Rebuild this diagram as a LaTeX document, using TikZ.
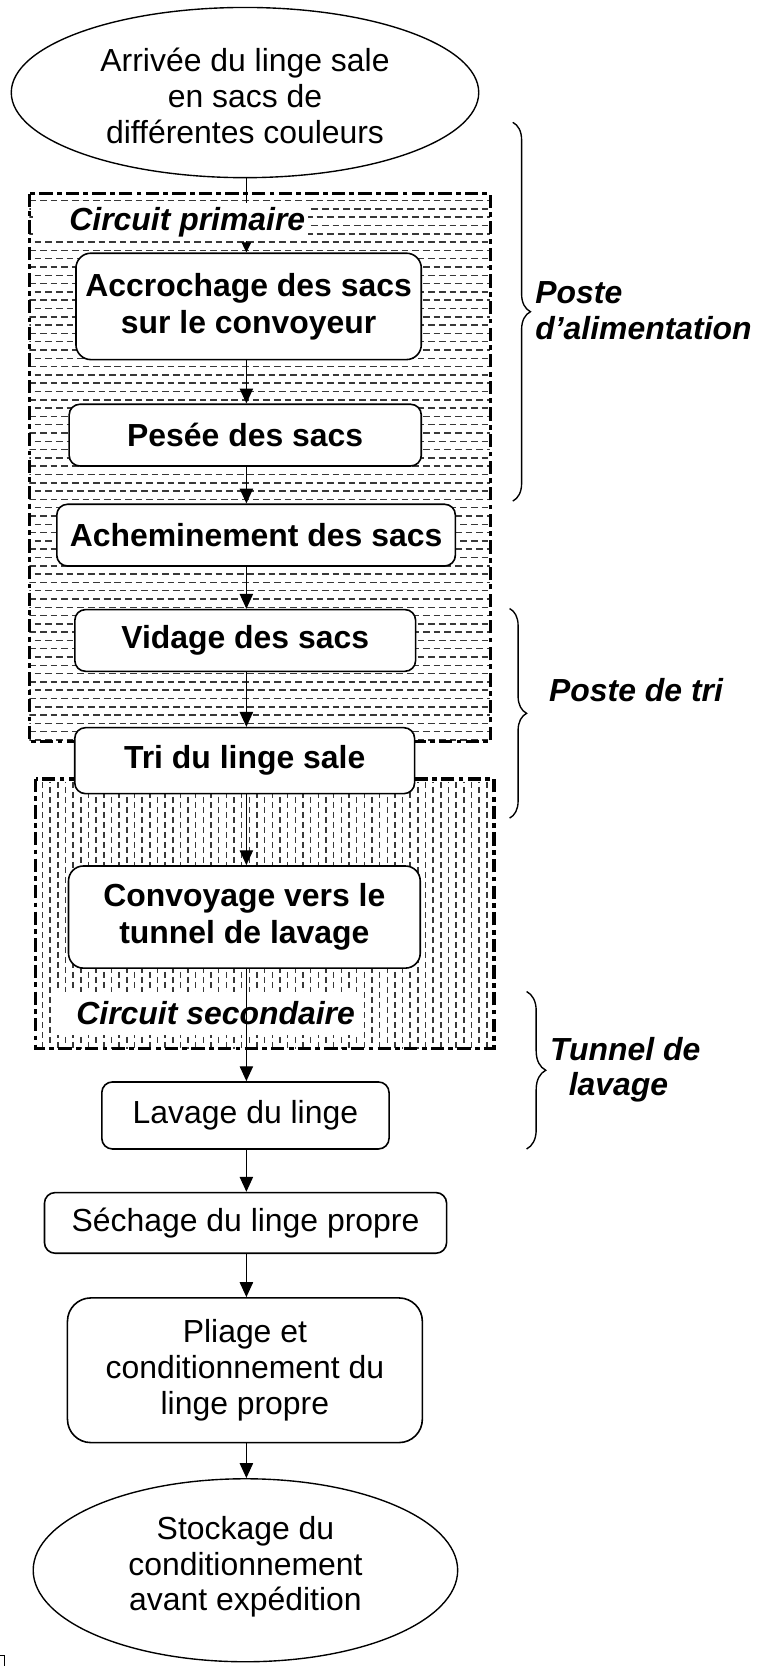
\documentclass[tikz,border=0pt]{standalone}
\usepackage{fontspec}
\setmainfont{Liberation Sans}
\usetikzlibrary{shapes.geometric,arrows.meta,decorations.pathreplacing,calc}
\definecolor{patgray}{gray}{0.22}
\begin{document}
\begin{tikzpicture}[x=1pt,y=-1pt,
  txt/.style={font=\fontsize{30}{34}\selectfont, align=center, inner sep=0pt},
  bbox/.style={draw, line width=1.5pt, fill=white, rounded corners=10pt, inner sep=0pt,
    font=\fontsize{30}{35}\selectfont\bfseries, align=center},
  rbox/.style={bbox, font=\fontsize{30}{34}\selectfont},
  ell/.style={draw, ellipse, line width=1.3pt, fill=white, inner sep=0pt},
  conn/.style={line width=1.3pt, -{Triangle[width=12.5pt,length=14pt]}},
  connsmall/.style={line width=1.3pt, -{Triangle[width=9pt,length=9.5pt]}},
  framebox/.style={line width=3.4pt, dash pattern=on 12.5pt off 4pt on 4.5pt off 4pt},
  hpat/.style={draw=patgray, line width=1.4pt, dash pattern=on 6.3pt off 3.7pt},
  vpat/.style={draw=patgray, line width=1.4pt, dash pattern=on 5.6pt off 3.8pt},
  lab/.style={font=\fontsize{30}{34}\selectfont\bfseries\itshape, inner sep=0pt},
  brc/.style={decorate, line width=1.3pt},
]
\useasboundingbox (0,0) rectangle (720,1566);

% --- pattern fills ---
\begin{scope}
  \clip (27.6,182) rectangle (461,697);
  \foreach \k in {0,...,66}{
    \pgfmathsetmacro\yy{188.6+7.8*\k}
    \pgfmathsetmacro\ph{mod(\k,2)*5}
    \draw[hpat, dash phase=\ph pt] (27.6,\yy) -- (461,\yy);
  }
\end{scope}
\begin{scope}
  \clip (33.5,732) rectangle (464.2,985.6);
  \foreach \k in {0,...,60}{
    \pgfmathsetmacro\xx{40+7.2*\k}
    \pgfmathsetmacro\ph{mod(\k,2)*4.7}
    \draw[vpat, dash phase=\ph pt] (\xx,735) -- (\xx,985.6);
  }
\end{scope}

% --- frames ---
\draw[framebox] (27.6,182) rectangle (461,697);
\draw[framebox] (33.5,732) rectangle (464.2,985.6);

% --- nodes ---
\coordinate (axis) at (231.6,0);
\node[ell, minimum width=439.4pt, minimum height=160pt] (start) at (230.3,87) {};
\node[txt] (starttxt) at (230.3,90) {Arrivée du linge sale\\en sacs de\\différentes couleurs};

\node[bbox, rounded corners=14pt, minimum width=324.6pt, minimum height=100pt] (acc) at (233.7,288) {Accrochage des sacs\\sur le convoyeur};
\node[bbox, minimum width=331pt, minimum height=58pt] (pes) at (230.5,409) {Pesée des sacs};
\node[bbox, minimum width=374.6pt, minimum height=58pt] (ach) at (240.7,503) {Acheminement des sacs};
\node[bbox, minimum width=320.3pt, minimum height=58pt] (vid) at (230.5,602) {Vidage des sacs};
\node[bbox, minimum width=319.4pt, minimum height=62pt] (tri) at (230,715) {Tri du linge sale};
\node[bbox, rounded corners=14pt, minimum width=330.6pt, minimum height=96pt] (conv) at (229.7,862) {Convoyage vers le\\tunnel de lavage};
\node[rbox, minimum width=270pt, minimum height=63pt] (lav) at (230.7,1048.5) {Lavage du linge};
\node[rbox, minimum width=378pt, minimum height=57pt] (sech) at (230.8,1149.5) {Séchage du linge propre};
\node[rbox, rounded corners=22pt, minimum width=333.6pt, minimum height=136pt] (pli) at (230.2,1288) {Pliage et\\conditionnement du\\linge propre};
\node[ell, minimum width=399pt, minimum height=172pt] (stock) at (230.7,1476) {};
\node[txt, font=\fontsize{30}{33.5}\selectfont] (stocktxt) at (230.7,1473) {Stockage du\\conditionnement\\avant expédition};

% --- first connector (hidden behind label) ---
\draw[connsmall] (start.south -| axis) -- (acc.north -| axis);

% --- circuit labels ---
\node[lab, fill=white, anchor=west, minimum height=36pt, inner xsep=3pt] (cprim) at (31,209) {\hspace*{31pt}Circuit primaire};
\node[lab, fill=white, anchor=west, minimum height=41pt, inner xsep=3pt] (csec) at (49.6,952.5) {\hspace*{19pt}Circuit secondaire};

% --- connectors ---
\draw[conn] (acc.south -| axis) -- (pes.north -| axis);
\draw[conn] (pes.south -| axis) -- (ach.north -| axis);
\draw[conn] (ach.south -| axis) -- (vid.north -| axis);
\draw[conn] (vid.south -| axis) -- (tri.north -| axis);
\draw[conn] (tri.south -| axis) -- (conv.north -| axis);
\draw[conn] (conv.south -| axis) -- (lav.north -| axis);
\draw[conn] (lav.south -| axis) -- (sech.north -| axis);
\draw[conn] (sech.south -| axis) -- (pli.north -| axis);
\draw[conn] (pli.south -| axis) -- (stock.north -| axis);

% --- braces and labels ---
\coordinate (b1t) at (482,115);
\coordinate (b1b) at (482,471);
\draw[brc, decoration={brace, amplitude=16.6pt}] (b1t) -- (b1b);
\node[lab, anchor=west, align=left] (poste1) at (503,292) {Poste\\d’alimentation};

\coordinate (b2t) at (479,572);
\coordinate (b2b) at (479,769);
\draw[brc, decoration={brace, amplitude=16pt}] (b2t) -- (b2b);
\node[lab, anchor=west] (poste2) at (516,649) {Poste de tri};

\coordinate (b3t) at (495,932);
\coordinate (b3b) at (495,1080);
\draw[brc, decoration={brace, amplitude=18pt}] (b3t) -- (b3b);
\node[lab, anchor=west, align=left, font=\fontsize{30}{32.7}\selectfont\bfseries\itshape] (tunnel) at (517,1005.5) {Tunnel de\\\hspace*{17.5pt}lavage};

% --- small corner mark ---
\draw[line width=1.1pt] (0,1556) -- (4,1556) -- (4,1566);
\end{tikzpicture}
\end{document}
